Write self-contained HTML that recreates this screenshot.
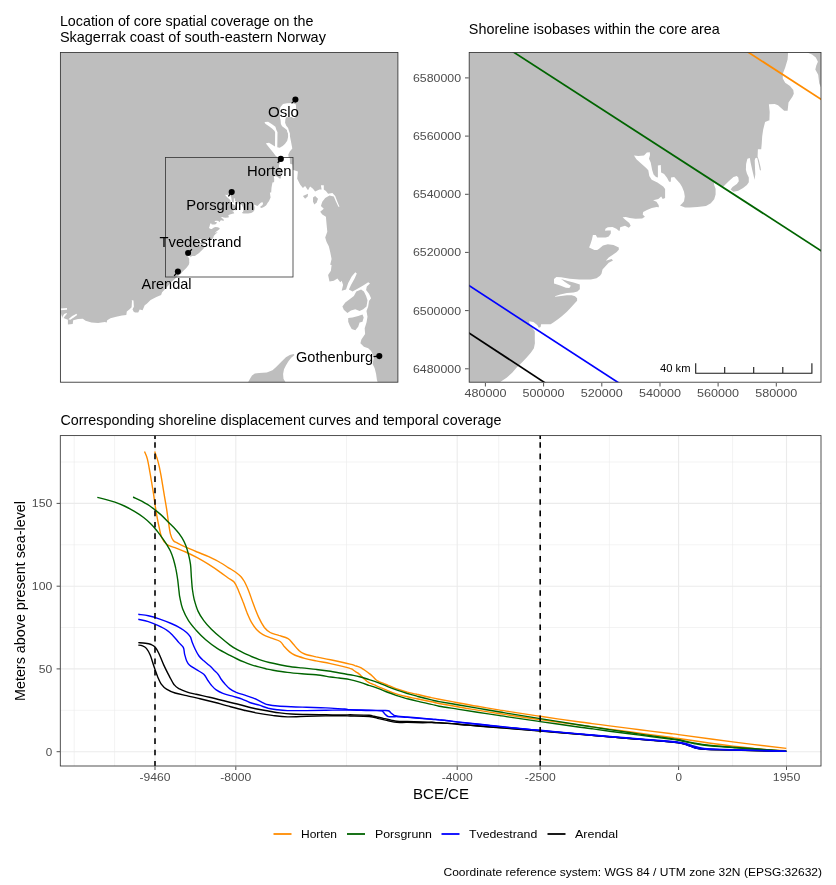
<!DOCTYPE html>
<html><head><meta charset="utf-8"><title>Shoreline displacement</title>
<style>
html,body{margin:0;padding:0;background:#fff;}
svg{display:block;font-family:"Liberation Sans",Arial,Helvetica,sans-serif;}
.t{font-size:14.4px;fill:#000;}
.ax{font-size:11px;fill:#4d4d4d;}
.lab{font-size:14.2px;fill:#000;}
.leg{font-size:11px;fill:#000;}
</style></head><body>
<svg width="836" height="885" viewBox="0 0 836 885">
<rect width="836" height="885" fill="#fff"/>
<defs>
<clipPath id="c1"><rect x="60.4" y="52.5" width="337.5" height="329.7"/></clipPath>
<clipPath id="c2"><rect x="469.2" y="52.5" width="351.8" height="329.7"/></clipPath>
<clipPath id="c3"><rect x="60.3" y="435.6" width="760.7" height="330.4"/></clipPath>
</defs>

<text class="t" x="59.9" y="25.8" textLength="253.5" lengthAdjust="spacingAndGlyphs">Location of core spatial coverage on the</text>
<text class="t" x="59.9" y="42" textLength="266" lengthAdjust="spacingAndGlyphs">Skagerrak coast of south-eastern Norway</text>
<text class="t" x="468.8" y="34" textLength="251" lengthAdjust="spacingAndGlyphs">Shoreline isobases within the core area</text>
<text class="t" x="60.5" y="425" textLength="441" lengthAdjust="spacingAndGlyphs">Corresponding shoreline displacement curves and temporal coverage</text>
<g clip-path="url(#c1)">
<rect x="60" y="52" width="339" height="331" fill="#bebebe"/>
<path d="M50.0 395.0 L50.0 313.0 L58.8 313.0 L60.7 313.0 L62.2 317.3 L64.1 318.3 L67.9 319.7 L67.9 324.5 L72.7 324.0 L73.2 320.2 L78.0 319.0 L82.8 318.8 L85.6 320.7 L91.4 322.6 L98.1 322.9 L104.8 322.1 L106.7 322.6 L107.2 320.2 L110.5 318.3 L116.2 316.8 L122.0 315.6 L126.3 314.9 L126.8 311.6 L129.6 309.2 L131.6 307.3 L132.0 300.6 L131.1 300.1 L133.5 300.6 L133.9 306.8 L132.5 309.2 L133.5 311.6 L135.0 312.5 L138.2 312.4 L139.7 309.5 L142.6 310.3 L144.7 305.2 L146.8 303.7 L150.6 299.9 L156.4 297.0 L161.1 295.1 L162.1 292.2 L165.0 289.3 L171.0 282.5 L176.7 277.3 L176.7 276.8 L179.0 275.2 L181.1 273.4 L182.7 271.6 L184.8 269.5 L186.3 268.0 L187.9 266.1 L188.9 264.6 L189.3 262.8 L189.2 261.6 L189.2 258.5 L187.3 255.8 L187.2 254.8 L188.7 255.1 L190.1 256.1 L190.7 257.2 L191.3 256.9 L191.5 255.9 L195.0 255.9 L195.8 255.3 L197.7 253.9 L199.1 252.9 L200.8 251.3 L202.2 250.0 L203.8 248.2 L204.5 247.4 L204.5 246.5 L203.8 245.7 L202.6 245.4 L200.8 245.4 L198.8 245.6 L196.7 246.0 L196.5 245.7 L198.4 245.1 L200.8 244.6 L203.3 244.4 L204.7 244.0 L205.5 243.2 L205.5 241.5 L203.3 240.8 L201.2 240.2 L198.8 239.5 L200.2 240.6 L201.5 241.5 L202.3 242.0 L201.7 242.8 L200.5 242.7 L198.4 241.9 L196.2 241.1 L196.2 239.6 L197.0 238.8 L198.8 238.9 L201.9 239.4 L205.3 239.7 L209.5 239.7 L211.6 239.2 L212.8 238.4 L213.4 237.6 L213.7 236.0 L216.0 233.6 L217.5 232.8 L217.0 232.3 L214.9 232.9 L216.0 231.7 L217.4 230.8 L218.7 229.8 L219.6 228.9 L219.6 228.1 L217.7 227.2 L215.6 226.9 L213.9 227.4 L212.5 228.6 L211.8 229.0 L210.8 229.0 L208.9 228.1 L209.4 226.8 L209.9 225.1 L210.3 223.6 L211.3 223.6 L211.8 224.5 L214.9 224.5 L216.0 224.1 L216.7 223.0 L216.7 221.9 L215.6 221.9 L214.7 222.1 L214.8 221.3 L215.6 220.8 L217.4 220.7 L218.7 221.3 L219.6 222.1 L220.0 222.1 L220.1 220.8 L221.9 220.3 L223.2 221.0 L223.9 220.3 L223.4 219.2 L221.9 218.0 L221.0 217.1 L222.2 217.1 L223.6 217.4 L225.7 217.7 L228.1 217.6 L229.1 217.0 L228.3 216.1 L228.4 215.2 L229.8 214.5 L231.6 213.9 L233.3 213.4 L234.2 213.5 L234.0 212.5 L234.1 212.9 L233.3 211.6 L232.0 211.0 L233.9 210.5 L235.0 209.6 L235.5 210.5 L236.4 210.2 L236.4 206.9 L235.7 206.0 L233.6 204.6 L231.5 203.6 L230.7 202.2 L230.3 200.1 L229.4 199.2 L227.7 197.7 L226.0 196.1 L225.1 194.7 L226.7 195.0 L228.7 194.7 L229.8 193.7 L230.8 193.6 L230.9 194.6 L230.5 196.0 L231.2 197.3 L231.7 200.1 L232.2 201.7 L233.1 202.5 L233.8 202.7 L233.8 198.4 L234.8 198.3 L234.9 201.0 L236.0 201.5 L237.1 202.9 L237.8 204.3 L238.4 204.3 L238.5 202.7 L239.7 202.6 L241.8 205.0 L242.5 206.2 L243.2 207.9 L243.5 209.6 L243.2 211.4 L242.5 212.2 L241.8 212.9 L243.6 213.6 L245.3 213.6 L248.1 213.4 L251.2 213.1 L252.9 212.1 L254.1 210.7 L254.6 208.9 L254.6 206.9 L254.1 205.5 L254.2 206.2 L254.0 204.6 L257.5 206.0 L259.4 204.1 L261.1 202.6 L262.3 202.2 L262.9 202.7 L263.0 204.1 L262.3 205.2 L260.8 206.2 L260.1 207.1 L261.1 207.9 L262.9 207.6 L264.6 206.5 L266.0 205.5 L266.7 204.5 L267.7 202.7 L268.9 201.3 L269.8 199.3 L270.6 197.5 L270.3 195.8 L269.9 192.5 L271.2 192.5 L271.3 190.6 L271.5 187.8 L271.9 185.4 L272.5 182.6 L274.3 181.9 L274.1 182.2 L274.2 179.0 L273.9 176.3 L276.0 176.2 L277.2 176.6 L279.5 178.6 L280.7 178.6 L281.0 175.6 L282.4 173.5 L282.9 172.5 L282.8 171.1 L281.6 169.7 L279.8 168.5 L279.0 166.9 L279.0 165.2 L279.8 162.9 L280.7 160.0 L278.7 157.7 L275.8 156.0 L273.0 152.2 L269.1 147.4 L266.3 143.9 L266.0 143.3 L269.0 142.8 L273.8 145.8 L275.0 146.4 L275.1 132.3 L274.4 130.8 L272.0 128.5 L269.0 126.3 L266.0 124.2 L264.7 123.0 L264.8 122.0 L268.1 121.8 L272.0 124.2 L275.4 126.8 L276.4 129.9 L277.5 132.3 L277.3 147.2 L279.7 147.8 L282.7 146.1 L285.1 143.7 L287.2 140.7 L288.1 137.1 L288.0 133.5 L287.2 131.7 L286.9 129.9 L284.5 128.1 L282.1 126.3 L280.9 123.9 L280.6 120.3 L280.0 117.9 L279.7 112.0 L280.3 107.2 L283.0 104.1 L286.9 103.3 L292.3 103.0 L295.9 104.5 L296.2 112.0 L295.3 117.6 L293.2 117.9 L291.7 117.0 L286.3 117.3 L285.4 119.1 L285.1 122.7 L286.3 125.7 L288.1 128.1 L289.0 131.1 L289.9 133.5 L289.9 135.9 L290.5 138.9 L291.5 144.3 L292.3 148.6 L289.8 151.5 L288.3 154.4 L288.7 157.5 L289.8 157.9 L290.1 163.7 L292.6 164.4 L293.1 170.2 L293.6 170.1 L297.9 171.5 L297.2 178.7 L300.1 184.4 L302.9 188.0 L305.1 185.9 L308.0 190.2 L310.1 186.6 L313.0 188.8 L315.1 191.6 L319.4 189.5 L321.6 189.5 L320.9 185.2 L323.8 185.2 L323.8 189.5 L325.9 190.9 L328.1 193.8 L332.4 193.1 L335.2 195.9 L337.4 201.7 L339.5 206.7 L338.4 206.7 L336.0 201.7 L333.8 196.6 L329.5 195.6 L325.2 198.1 L322.3 201.7 L320.9 206.0 L323.8 208.8 L320.2 211.7 L322.3 214.6 L325.9 216.7 L326.6 224.6 L327.3 231.8 L325.2 237.6 L326.6 241.9 L328.8 246.2 L330.2 251.9 L331.6 259.1 L330.2 264.8 L331.6 265.0 L330.9 270.7 L328.1 275.0 L329.5 281.5 L333.8 280.8 L337.4 278.6 L340.3 282.2 L341.7 280.8 L343.1 285.1 L341.7 290.8 L346.0 289.4 L348.2 282.9 L351.7 276.5 L355.3 272.2 L356.8 273.6 L354.6 278.6 L351.0 285.1 L348.9 289.4 L352.5 291.6 L357.5 288.7 L363.2 285.4 L368.2 282.2 L370.0 283.4 L366.8 286.5 L366.1 290.1 L369.0 293.7 L371.1 298.3 L369.0 300.9 L368.2 306.6 L366.5 310.9 L367.5 316.7 L366.5 322.4 L364.7 328.2 L365.1 333.9 L361.4 339.6 L360.4 343.2 L363.9 346.8 L368.2 348.2 L371.1 351.1 L374.0 356.9 L372.6 364.0 L374.7 368.3 L376.1 374.1 L376.9 379.8 L377.6 382.0 L377.6 389.9 Z" fill="#fff"/>
<path d="M58.8 308.5 L67.0 307.9 L67.0 309.7 L58.8 310.2 Z" fill="#fff"/>
<path d="M62.2 317.3 L64.1 314.0 L66.5 313.0 L67.0 313.7 L64.6 316.4 L63.6 318.3 Z" fill="#fff"/>
<path d="M68.4 319.2 L72.2 315.9 L76.5 313.7 L77.2 314.9 L74.1 317.3 L70.3 319.7 Z" fill="#fff"/>
<path d="M248.1 382.3 L250.0 378.8 L252.0 375.5 L254.8 373.5 L259.1 373.1 L266.8 372.6 L272.5 370.2 L276.4 366.8 L281.1 362.1 L285.9 357.3 L289.8 354.9 L293.6 353.9 L294.5 354.9 L291.2 357.8 L288.3 361.6 L285.9 365.4 L284.0 369.2 L283.1 374.0 L283.5 378.8 L285.5 382.3 L285.5 387.4 L248.1 387.4 Z" fill="#bebebe"/>
<path d="M356.3 291.6 L361.1 289.4 L363.9 291.6 L366.1 295.9 L367.5 300.2 L366.5 306.6 L363.2 309.2 L359.6 310.9 L355.3 309.2 L351.0 310.6 L347.4 313.1 L343.8 309.8 L342.4 306.6 L345.3 302.6 L350.3 298.7 L353.9 295.9 Z" fill="#bebebe"/>
<path d="M348.2 318.1 L352.5 317.4 L358.2 316.0 L362.5 314.5 L363.7 317.4 L362.5 321.7 L359.6 322.4 L358.2 326.7 L355.3 330.3 L351.7 328.9 L349.6 325.3 L348.2 321.7 Z" fill="#bebebe"/>
<path d="M302.9 195.9 L308.0 193.8 L307.7 196.6 L305.1 198.8 Z" fill="#bebebe"/>
<path d="M313.0 197.4 L315.1 195.9 L318.0 198.8 L316.6 202.4 L314.4 204.5 L313.0 201.7 Z" fill="#bebebe"/>
</g>
<rect x="165.5" y="157.5" width="127.5" height="119.5" fill="none" stroke="#333" stroke-width="0.8"/>
<line x1="295.4" y1="99.6" x2="291.6" y2="103.4" stroke="#000" stroke-width="1.25"/>
<line x1="280.8" y1="158.9" x2="277.7" y2="162.8" stroke="#000" stroke-width="1.25"/>
<line x1="231.7" y1="192.1" x2="228.4" y2="196.4" stroke="#000" stroke-width="1.25"/>
<line x1="188.1" y1="253" x2="191.9" y2="249.3" stroke="#000" stroke-width="1.25"/>
<line x1="177.9" y1="271.6" x2="174.1" y2="275.8" stroke="#000" stroke-width="1.25"/>
<line x1="379.3" y1="356.1" x2="373.5" y2="356.6" stroke="#000" stroke-width="1.25"/>
<circle cx="295.4" cy="99.6" r="3.05" fill="#000"/>
<circle cx="280.8" cy="158.9" r="3.05" fill="#000"/>
<circle cx="231.7" cy="192.1" r="3.05" fill="#000"/>
<circle cx="188.1" cy="253" r="3.05" fill="#000"/>
<circle cx="177.9" cy="271.6" r="3.05" fill="#000"/>
<circle cx="379.3" cy="356.1" r="3.05" fill="#000"/>
<text class="lab" x="268" y="116.5" textLength="31" lengthAdjust="spacingAndGlyphs">Oslo</text>
<text class="lab" x="247" y="176" textLength="44.5" lengthAdjust="spacingAndGlyphs">Horten</text>
<text class="lab" x="186.3" y="210" textLength="68" lengthAdjust="spacingAndGlyphs">Porsgrunn</text>
<text class="lab" x="159.5" y="247" textLength="82" lengthAdjust="spacingAndGlyphs">Tvedestrand</text>
<text class="lab" x="141.5" y="289" textLength="50" lengthAdjust="spacingAndGlyphs">Arendal</text>
<text class="lab" x="296" y="362" textLength="77" lengthAdjust="spacingAndGlyphs">Gothenburg</text>
<rect x="60.4" y="52.5" width="337.5" height="329.7" fill="none" stroke="#333" stroke-width="0.85"/>
<g clip-path="url(#c2)">
<rect x="469" y="52" width="353" height="331" fill="#fff"/>
<path d="M460.0 40.0 L460.0 395.0 L500.2 383.4 L500.2 382.0 L506.6 377.7 L512.4 372.6 L516.7 367.6 L522.4 361.9 L526.7 357.6 L531.0 352.5 L533.9 348.2 L534.9 343.2 L534.8 340.0 L534.8 331.3 L529.6 323.9 L529.1 321.2 L533.4 322.0 L537.2 324.9 L538.9 327.8 L540.6 327.0 L541.1 324.3 L550.6 324.3 L553.0 322.7 L558.3 318.9 L562.1 316.0 L566.9 311.7 L570.7 307.8 L575.0 303.1 L577.1 300.7 L577.1 298.3 L575.0 296.2 L571.7 295.2 L566.9 295.2 L561.1 295.9 L555.4 296.8 L554.9 296.2 L560.2 294.4 L566.9 293.0 L573.6 292.5 L577.4 291.4 L579.8 289.2 L579.8 284.4 L573.6 282.5 L567.8 280.9 L561.1 278.9 L565.0 282.0 L568.8 284.4 L570.9 285.8 L569.3 287.9 L565.9 287.8 L560.2 285.6 L554.0 283.4 L554.0 279.1 L556.4 277.0 L561.1 277.2 L569.8 278.7 L579.3 279.6 L590.8 279.6 L596.6 278.2 L600.0 275.8 L601.5 273.7 L602.5 269.4 L608.7 262.7 L613.0 260.5 L611.6 259.1 L605.8 260.8 L608.7 257.4 L612.5 255.0 L616.4 252.2 L618.8 249.8 L618.8 247.4 L613.5 245.0 L607.8 244.2 L603.0 245.5 L599.1 248.8 L597.2 250.0 L594.4 250.0 L589.1 247.4 L590.5 244.0 L592.0 239.2 L592.9 234.9 L595.8 234.9 L597.2 237.5 L605.8 237.5 L608.7 236.4 L610.8 233.5 L610.8 230.4 L607.8 230.4 L605.1 230.8 L605.4 228.7 L607.8 227.3 L612.5 227.1 L616.4 228.7 L618.8 230.8 L619.7 230.8 L620.2 227.3 L625.0 225.8 L628.8 227.8 L630.7 225.8 L629.3 223.0 L625.0 219.6 L622.6 217.2 L625.9 217.0 L629.8 218.0 L635.5 218.7 L642.2 218.4 L644.9 216.7 L642.7 214.4 L643.2 212.0 L647.0 210.0 L651.8 208.1 L656.6 206.9 L658.9 207.2 L658.5 204.3 L658.9 205.6 L656.5 201.8 L653.1 200.3 L658.4 198.9 L661.2 196.5 L662.7 198.9 L665.1 197.9 L665.1 188.9 L663.2 186.5 L657.4 182.6 L651.7 179.8 L649.3 175.9 L648.3 170.2 L645.9 167.8 L641.1 163.5 L636.4 159.2 L634.0 155.4 L638.3 156.0 L644.0 155.4 L646.9 152.5 L649.8 152.2 L650.0 154.9 L649.0 158.7 L650.7 162.5 L652.2 170.2 L653.6 174.5 L656.0 176.9 L657.9 177.4 L657.9 165.4 L660.8 165.1 L661.1 172.6 L664.1 174.0 L667.0 177.8 L669.1 181.7 L670.8 181.7 L671.0 177.4 L674.2 177.1 L680.0 183.6 L682.1 186.9 L684.0 191.7 L684.8 196.5 L684.0 201.2 L682.1 203.6 L680.0 205.6 L685.0 207.5 L689.8 207.5 L697.4 207.0 L706.0 206.0 L710.8 203.2 L714.2 199.3 L715.6 194.5 L715.6 188.8 L714.2 185.0 L714.4 187.0 L713.9 182.7 L723.4 186.5 L728.7 181.2 L733.5 176.9 L736.8 176.0 L738.3 177.4 L738.8 181.2 L736.8 184.1 L732.5 187.0 L730.6 189.4 L733.5 191.8 L738.3 190.8 L743.1 187.9 L746.9 185.1 L748.8 182.2 L748.8 177.4 L746.9 173.6 L745.9 169.8 L746.1 164.0 L747.4 158.8 L749.8 158.1 L750.7 163.1 L752.2 169.8 L753.6 175.5 L754.5 179.8 L755.3 174.5 L755.0 167.8 L754.7 160.2 L755.5 158.1 L757.2 157.8 L758.4 163.1 L759.8 169.8 L761.0 170.7 L760.5 166.9 L758.9 160.2 L757.6 156.4 L757.9 149.2 L761.2 149.2 L761.7 143.9 L762.2 136.3 L763.2 129.6 L765.1 121.9 L769.9 120.0 L769.4 120.6 L769.7 112.0 L768.9 104.3 L774.7 104.1 L778.0 105.3 L784.2 110.8 L787.6 110.8 L788.5 102.4 L792.4 96.7 L793.8 93.8 L793.3 90.0 L790.0 86.1 L785.2 82.8 L782.8 78.5 L782.8 73.7 L785.2 67.5 L787.6 59.4 L788.1 52.5 L788.1 48.8 Z" fill="#bebebe"/>
<path d="M807.2 52.5 L812.0 54.6 L815.8 57.4 L817.9 61.7 L816.3 65.6 L815.3 69.4 L818.2 74.7 L819.2 83.3 L820.8 87.1 L822.5 87.1 L822.5 50.7 L807.2 50.7 Z" fill="#bebebe"/>
<line x1="740" y1="46.9" x2="830" y2="105.1" stroke="#ff8c00" stroke-width="1.7"/>
<line x1="505" y1="46.6" x2="830" y2="256.5" stroke="#006400" stroke-width="1.7"/>
<line x1="460" y1="279.7" x2="630" y2="390.2" stroke="#0000ff" stroke-width="1.7"/>
<line x1="460" y1="327.1" x2="555" y2="389.4" stroke="#000" stroke-width="1.7"/>
</g>
<path d="M695.7 363.3 V373.3 H811.9 V363.3 M724.7 367 V373.3 M753.7 367 V373.3 M782.8 367 V373.3" fill="none" stroke="#1a1a1a" stroke-width="1.1"/>
<text x="660" y="372.3" font-size="10.6" fill="#000" textLength="30.5" lengthAdjust="spacingAndGlyphs">40 km</text>
<rect x="469.2" y="52.5" width="351.8" height="329.7" fill="none" stroke="#333" stroke-width="0.85"/>
<line x1="465" y1="77.9" x2="468.7" y2="77.9" stroke="#333" stroke-width="0.85"/>
<text class="ax" x="413" y="81.9" textLength="48" lengthAdjust="spacingAndGlyphs">6580000</text>
<line x1="465" y1="136.1" x2="468.7" y2="136.1" stroke="#333" stroke-width="0.85"/>
<text class="ax" x="413" y="140.1" textLength="48" lengthAdjust="spacingAndGlyphs">6560000</text>
<line x1="465" y1="194.3" x2="468.7" y2="194.3" stroke="#333" stroke-width="0.85"/>
<text class="ax" x="413" y="198.3" textLength="48" lengthAdjust="spacingAndGlyphs">6540000</text>
<line x1="465" y1="252.4" x2="468.7" y2="252.4" stroke="#333" stroke-width="0.85"/>
<text class="ax" x="413" y="256.4" textLength="48" lengthAdjust="spacingAndGlyphs">6520000</text>
<line x1="465" y1="310.6" x2="468.7" y2="310.6" stroke="#333" stroke-width="0.85"/>
<text class="ax" x="413" y="314.6" textLength="48" lengthAdjust="spacingAndGlyphs">6500000</text>
<line x1="465" y1="368.8" x2="468.7" y2="368.8" stroke="#333" stroke-width="0.85"/>
<text class="ax" x="413" y="372.8" textLength="48" lengthAdjust="spacingAndGlyphs">6480000</text>
<line x1="485.4" y1="383" x2="485.4" y2="386.5" stroke="#333" stroke-width="0.85"/>
<text class="ax" x="464.4" y="396.6" textLength="42" lengthAdjust="spacingAndGlyphs">480000</text>
<line x1="543.6" y1="383" x2="543.6" y2="386.5" stroke="#333" stroke-width="0.85"/>
<text class="ax" x="522.6" y="396.6" textLength="42" lengthAdjust="spacingAndGlyphs">500000</text>
<line x1="601.8" y1="383" x2="601.8" y2="386.5" stroke="#333" stroke-width="0.85"/>
<text class="ax" x="580.8" y="396.6" textLength="42" lengthAdjust="spacingAndGlyphs">520000</text>
<line x1="660" y1="383" x2="660" y2="386.5" stroke="#333" stroke-width="0.85"/>
<text class="ax" x="639.0" y="396.6" textLength="42" lengthAdjust="spacingAndGlyphs">540000</text>
<line x1="718.1" y1="383" x2="718.1" y2="386.5" stroke="#333" stroke-width="0.85"/>
<text class="ax" x="697.1" y="396.6" textLength="42" lengthAdjust="spacingAndGlyphs">560000</text>
<line x1="776.3" y1="383" x2="776.3" y2="386.5" stroke="#333" stroke-width="0.85"/>
<text class="ax" x="755.3" y="396.6" textLength="42" lengthAdjust="spacingAndGlyphs">580000</text>
<rect x="60.3" y="435.6" width="760.7" height="330.4" fill="#fff"/>
<line x1="60.3" x2="821" y1="710.3" y2="710.3" stroke="#ebebeb" stroke-width="0.6"/>
<line x1="60.3" x2="821" y1="627.5" y2="627.5" stroke="#ebebeb" stroke-width="0.6"/>
<line x1="60.3" x2="821" y1="544.8" y2="544.8" stroke="#ebebeb" stroke-width="0.6"/>
<line x1="60.3" x2="821" y1="462.0" y2="462.0" stroke="#ebebeb" stroke-width="0.6"/>
<line y1="435.6" y2="766" x1="74.2" x2="74.2" stroke="#ebebeb" stroke-width="0.6"/>
<line y1="435.6" y2="766" x1="114.6" x2="114.6" stroke="#ebebeb" stroke-width="0.6"/>
<line y1="435.6" y2="766" x1="195.4" x2="195.4" stroke="#ebebeb" stroke-width="0.6"/>
<line y1="435.6" y2="766" x1="346.5" x2="346.5" stroke="#ebebeb" stroke-width="0.6"/>
<line y1="435.6" y2="766" x1="498.7" x2="498.7" stroke="#ebebeb" stroke-width="0.6"/>
<line y1="435.6" y2="766" x1="609.4" x2="609.4" stroke="#ebebeb" stroke-width="0.6"/>
<line y1="435.6" y2="766" x1="732.6" x2="732.6" stroke="#ebebeb" stroke-width="0.6"/>
<line x1="60.3" x2="821" y1="751.7" y2="751.7" stroke="#ebebeb" stroke-width="1.1"/>
<line x1="60.3" x2="821" y1="668.9" y2="668.9" stroke="#ebebeb" stroke-width="1.1"/>
<line x1="60.3" x2="821" y1="586.2" y2="586.2" stroke="#ebebeb" stroke-width="1.1"/>
<line x1="60.3" x2="821" y1="503.4" y2="503.4" stroke="#ebebeb" stroke-width="1.1"/>
<line y1="435.6" y2="766" x1="155.0" x2="155.0" stroke="#ebebeb" stroke-width="1.1"/>
<line y1="435.6" y2="766" x1="235.8" x2="235.8" stroke="#ebebeb" stroke-width="1.1"/>
<line y1="435.6" y2="766" x1="457.2" x2="457.2" stroke="#ebebeb" stroke-width="1.1"/>
<line y1="435.6" y2="766" x1="540.2" x2="540.2" stroke="#ebebeb" stroke-width="1.1"/>
<line y1="435.6" y2="766" x1="678.6" x2="678.6" stroke="#ebebeb" stroke-width="1.1"/>
<line y1="435.6" y2="766" x1="786.5" x2="786.5" stroke="#ebebeb" stroke-width="1.1"/>
<g clip-path="url(#c3)" fill="none" stroke-width="1.4" stroke-linejoin="round">
<path d="M138.3 642.6 C139.5 642.7 143.3 642.9 145.4 643.2 C147.5 643.5 149.6 643.9 151.1 644.5 C152.7 645.2 153.7 645.6 155.0 647.0 C156.3 648.5 157.4 650.2 158.8 653.2 C160.2 656.1 161.8 660.8 163.6 664.6 C165.3 668.5 167.6 672.8 169.3 676.1 C171.1 679.5 172.5 682.7 174.1 684.7 C175.7 686.8 176.8 687.4 178.9 688.6 C181.0 689.7 183.7 690.9 186.6 691.8 C189.4 692.8 192.3 693.4 196.1 694.3 C200.0 695.2 204.7 696.1 209.5 697.2 C214.3 698.3 219.7 699.7 224.8 701.0 C229.9 702.3 235.0 703.6 240.1 704.8 C245.2 706.1 250.8 707.6 255.5 708.7 C260.1 709.7 264.2 710.3 268.3 711.0 C272.3 711.7 275.9 712.4 279.8 712.9 C283.6 713.4 286.8 713.8 291.2 714.0 C295.7 714.3 300.8 714.3 306.6 714.4 C312.3 714.5 319.3 714.7 325.7 714.8 C332.1 714.9 340.8 715.0 344.8 715.0 C348.9 715.0 345.9 714.8 350.0 714.8 C354.1 714.9 365.2 715.1 369.1 715.3 C373.1 715.6 371.5 715.8 373.9 716.3 C376.3 716.8 380.6 717.7 383.5 718.4 C386.4 719.0 388.9 719.6 391.1 720.1 C393.4 720.6 394.2 721.0 396.9 721.2 C399.6 721.5 403.1 721.4 407.4 721.5 C411.7 721.7 418.7 721.9 422.7 722.0 C426.7 722.1 428.7 722.2 431.5 722.3 C434.2 722.5 434.8 722.5 439.1 722.7 C443.5 723.0 451.1 723.5 457.5 724.0 C463.9 724.5 470.3 725.2 477.4 725.8 C484.5 726.4 494.6 727.2 500.0 727.6 C505.4 728.0 502.9 727.8 509.6 728.3 C516.3 728.9 528.5 729.9 540.2 730.9 C551.9 731.8 571.4 733.5 580.0 734.2 C588.6 735.0 587.0 734.8 592.0 735.3 C596.9 735.7 601.6 736.1 609.5 736.8 C617.5 737.4 629.7 738.5 639.8 739.3 C649.9 740.1 663.5 741.2 670.0 741.8 C676.5 742.3 676.1 742.3 678.6 742.7 C681.0 743.0 682.7 743.5 684.8 744.1 C686.8 744.7 688.9 745.5 691.0 746.2 C693.1 746.9 694.8 747.8 697.2 748.3 C699.7 748.8 699.9 748.9 705.8 749.2 C711.7 749.5 719.2 749.6 732.7 750.0 C746.1 750.3 777.4 751.1 786.3 751.4" stroke="#000"/>
<path d="M138.3 645.1 C139.0 645.2 141.2 645.3 142.5 645.9 C143.9 646.4 145.1 646.8 146.4 648.4 C147.6 649.9 148.9 652.0 150.2 655.1 C151.5 658.1 152.7 662.9 154.0 666.6 C155.3 670.2 156.6 674.1 157.8 677.1 C159.1 680.1 160.2 682.7 161.7 684.7 C163.1 686.7 164.2 687.8 166.5 689.1 C168.7 690.5 171.7 691.9 175.1 693.0 C178.4 694.1 182.4 694.7 186.6 695.6 C190.7 696.6 195.2 697.6 200.0 698.7 C204.7 699.9 210.2 701.2 215.3 702.5 C220.4 703.9 225.8 705.5 230.6 706.7 C235.4 708.0 239.5 709.1 244.0 710.2 C248.4 711.2 252.7 712.2 257.4 713.1 C262.1 713.9 267.1 714.7 272.1 715.4 C277.1 716.0 281.7 716.7 287.4 716.9 C293.2 717.0 300.2 716.5 306.6 716.3 C312.9 716.2 319.3 716.0 325.7 715.9 C332.1 715.8 340.8 715.7 344.8 715.7 C348.9 715.7 345.9 715.9 350.0 716.0 C354.1 716.1 364.4 716.0 369.1 716.5 C373.9 716.9 375.5 717.8 378.7 718.6 C381.9 719.3 385.2 720.1 388.3 720.8 C391.3 721.4 393.7 722.1 396.9 722.4 C400.1 722.7 403.1 722.3 407.4 722.4 C411.7 722.4 418.7 722.7 422.7 722.7 C426.7 722.7 428.7 722.5 431.5 722.5 C434.2 722.6 434.8 722.6 439.1 722.9 C443.5 723.2 451.1 723.6 457.5 724.2 C463.9 724.7 470.3 725.4 477.4 726.0 C484.5 726.6 494.6 727.4 500.0 727.8 C505.4 728.2 502.9 728.0 509.6 728.5 C516.3 729.1 528.5 730.1 540.2 731.0 C551.9 732.0 571.4 733.6 580.0 734.4 C588.6 735.1 587.0 735.0 592.0 735.4 C596.9 735.8 601.6 736.2 609.5 736.9 C617.5 737.5 629.7 738.6 639.8 739.4 C649.9 740.3 663.5 741.3 670.0 741.9 C676.5 742.5 676.1 742.4 678.6 742.8 C681.0 743.2 682.7 743.6 684.8 744.2 C686.8 744.8 688.9 745.7 691.0 746.4 C693.1 747.1 694.8 747.9 697.2 748.4 C699.7 748.9 699.9 749.1 705.8 749.3 C711.7 749.6 719.2 749.8 732.7 750.1 C746.1 750.5 777.4 751.2 786.3 751.4" stroke="#000"/>
<path d="M144.5 451.5 C145.0 452.8 146.5 455.3 147.4 459.1 C148.4 463.0 149.3 469.0 150.3 474.4 C151.2 479.9 152.2 485.6 153.2 491.7 C154.1 497.7 155.1 505.1 156.0 510.8 C157.0 516.6 157.9 521.7 158.9 526.1 C159.9 530.6 160.5 534.6 161.8 537.6 C163.0 540.6 164.2 542.6 166.6 544.3 C168.9 546.1 172.9 546.9 176.1 548.1 C179.3 549.4 182.2 550.4 185.7 552.0 C189.2 553.6 193.3 555.6 197.2 557.7 C201.0 559.8 204.8 562.0 208.7 564.4 C212.5 566.8 217.0 569.8 220.1 572.1 C223.3 574.3 225.4 576.1 227.8 577.8 C230.2 579.5 232.5 580.1 234.3 582.2 C236.1 584.4 237.2 587.6 238.6 590.9 C240.0 594.1 241.5 597.9 242.9 601.6 C244.4 605.3 245.8 609.6 247.2 613.1 C248.7 616.6 249.9 619.6 251.5 622.4 C253.2 625.3 255.4 628.3 257.3 630.3 C259.2 632.4 260.6 633.3 263.0 634.6 C265.4 636.0 268.8 637.1 271.6 638.2 C274.5 639.4 278.1 640.1 280.2 641.5 C282.4 643.0 283.0 645.1 284.5 646.8 C286.1 648.6 287.9 650.5 289.6 651.9 C291.2 653.2 292.1 653.9 294.6 655.0 C297.1 656.1 301.0 657.3 304.6 658.3 C308.2 659.3 311.8 660.0 316.1 660.9 C320.4 661.8 324.8 662.4 330.5 663.6 C336.1 664.9 346.1 667.2 350.0 668.4 C353.9 669.5 352.6 669.8 353.8 670.5 C355.1 671.3 356.4 672.0 357.7 672.9 C358.9 673.9 360.4 675.2 361.5 676.3 C362.6 677.3 363.4 678.3 364.4 679.1 C365.3 680.0 366.3 680.9 367.2 681.5 C368.2 682.2 369.0 682.6 370.1 683.2 C371.2 683.7 372.5 684.1 373.9 684.7 C375.4 685.3 376.3 685.8 378.7 686.8 C381.1 687.8 385.1 689.6 388.3 690.8 C391.5 692.1 394.7 693.3 397.8 694.3 C401.0 695.3 404.2 696.1 407.4 696.8 C410.6 697.6 413.0 697.9 417.0 698.8 C421.0 699.6 427.8 701.0 431.5 701.8 C435.2 702.6 434.8 702.7 439.1 703.5 C443.5 704.3 451.1 705.6 457.5 706.7 C463.9 707.9 470.3 708.9 477.4 710.1 C484.5 711.3 494.6 712.9 500.0 713.7 C505.4 714.5 502.9 714.2 509.6 715.2 C516.3 716.2 528.5 718.0 540.2 719.6 C551.9 721.3 571.4 724.0 580.0 725.1 C588.6 726.3 587.0 726.1 592.0 726.7 C596.9 727.4 601.6 728.0 609.5 729.1 C617.5 730.2 629.7 731.8 639.8 733.2 C649.9 734.5 663.5 736.4 670.0 737.3 C676.5 738.2 672.1 737.5 678.6 738.5 C685.0 739.4 699.9 741.7 708.9 743.0 C717.9 744.2 724.9 745.1 732.7 746.1 C740.5 747.0 749.1 747.9 755.5 748.6 C761.9 749.2 766.0 749.6 771.1 750.0 C776.2 750.3 783.8 750.6 786.3 750.7" stroke="#ff8c00"/>
<path d="M154.7 451.5 C155.2 453.1 156.9 457.2 157.9 461.1 C159.0 464.9 159.9 469.3 160.8 474.4 C161.8 479.6 162.7 485.9 163.7 491.7 C164.6 497.4 165.8 503.8 166.6 508.9 C167.4 514.0 167.8 518.1 168.5 522.3 C169.1 526.4 169.6 530.7 170.4 533.8 C171.2 536.8 172.0 538.9 173.3 540.5 C174.5 542.1 176.0 542.2 178.0 543.3 C180.1 544.5 182.5 545.7 185.7 547.2 C188.9 548.6 193.3 550.4 197.2 552.0 C201.0 553.6 204.8 555.0 208.7 556.7 C212.5 558.5 217.0 560.7 220.1 562.5 C223.3 564.2 226.2 566.3 227.8 567.3 C229.4 568.3 228.7 567.8 230.0 568.6 C231.3 569.4 233.9 570.9 235.7 572.2 C237.5 573.5 239.3 575.0 240.8 576.5 C242.2 578.1 243.0 579.1 244.4 581.5 C245.7 583.9 247.2 587.3 248.7 590.9 C250.1 594.4 251.3 598.6 253.0 603.1 C254.6 607.5 256.8 613.3 258.7 617.4 C260.6 621.5 262.5 624.9 264.4 627.5 C266.4 630.0 267.8 631.2 270.2 632.5 C272.6 633.8 275.8 634.3 278.8 635.4 C281.8 636.4 285.7 637.2 288.1 638.7 C290.5 640.1 291.4 642.0 293.2 644.0 C294.9 645.9 297.0 648.8 298.9 650.4 C300.8 652.1 301.8 652.9 304.6 654.0 C307.5 655.1 311.8 655.9 316.1 656.9 C320.4 657.8 324.8 658.6 330.5 659.8 C336.1 661.0 345.9 663.1 350.0 664.1 C354.0 665.0 353.2 665.0 354.8 665.6 C356.4 666.1 358.0 666.4 359.6 667.2 C361.2 667.9 362.8 669.0 364.4 670.0 C365.9 671.1 367.7 672.3 369.1 673.4 C370.6 674.5 371.9 675.7 373.0 676.7 C374.1 677.8 374.9 678.8 375.8 679.6 C376.8 680.4 377.4 680.9 378.7 681.5 C380.0 682.2 381.9 682.8 383.5 683.4 C385.1 684.1 385.9 684.4 388.3 685.4 C390.7 686.3 394.7 688.1 397.8 689.2 C401.0 690.3 404.2 691.2 407.4 692.1 C410.6 692.9 413.0 693.3 417.0 694.3 C421.0 695.2 427.8 696.7 431.5 697.6 C435.2 698.4 434.8 698.3 439.1 699.2 C443.5 700.0 451.1 701.5 457.5 702.7 C463.9 703.9 470.3 705.1 477.4 706.3 C484.5 707.5 494.6 709.2 500.0 710.1 C505.4 711.0 502.9 710.6 509.6 711.6 C516.3 712.7 528.5 714.6 540.2 716.3 C551.9 718.1 571.4 720.8 580.0 722.0 C588.6 723.2 587.0 722.9 592.0 723.6 C596.9 724.2 601.6 724.8 609.5 725.9 C617.5 726.9 629.7 728.5 639.8 729.7 C649.9 731.0 663.5 732.7 670.0 733.5 C676.5 734.3 668.1 733.2 678.6 734.6 C689.0 736.0 714.7 739.6 732.7 741.9 C750.6 744.2 777.4 747.3 786.3 748.4" stroke="#ff8c00"/>
<path d="M97.3 497.4 C98.6 497.7 102.4 498.5 105.3 499.3 C108.2 500.1 111.7 501.1 114.9 502.2 C118.1 503.3 121.3 504.5 124.4 506.0 C127.6 507.5 130.8 509.3 134.0 511.2 C137.2 513.1 140.7 515.3 143.6 517.5 C146.5 519.7 149.0 522.0 151.2 524.2 C153.5 526.4 155.1 528.5 157.0 530.9 C158.9 533.3 161.1 536.3 162.7 538.6 C164.3 540.8 165.3 542.2 166.6 544.3 C167.8 546.4 169.3 548.6 170.4 551.0 C171.5 553.4 172.4 555.8 173.3 558.7 C174.1 561.5 175.0 564.7 175.7 568.2 C176.5 571.7 177.1 575.9 177.7 579.7 C178.2 583.5 178.6 588.2 179.0 591.2 C179.4 594.2 179.2 594.7 179.9 597.7 C180.5 600.6 181.3 605.3 182.7 609.1 C184.2 613.0 186.2 617.1 188.5 620.6 C190.7 624.1 193.3 627.0 196.1 630.2 C199.0 633.4 202.2 636.7 205.7 639.8 C209.2 642.8 213.1 645.8 217.2 648.4 C221.2 651.0 226.7 653.7 230.0 655.4 C233.3 657.2 234.8 657.9 237.2 659.0 C239.6 660.2 242.0 661.2 244.4 662.2 C246.7 663.2 249.1 664.0 251.5 664.8 C253.9 665.6 256.3 666.3 258.7 666.9 C261.1 667.6 263.5 668.2 265.9 668.8 C268.3 669.3 269.5 669.6 273.1 670.2 C276.6 670.8 282.6 671.8 287.4 672.4 C292.2 673.0 297.0 673.4 301.8 673.8 C306.6 674.2 311.3 674.3 316.1 674.8 C320.9 675.4 326.6 676.4 330.5 677.0 C334.3 677.5 335.8 677.6 339.1 678.0 C342.3 678.5 346.6 678.9 350.0 679.6 C353.4 680.3 356.4 681.2 359.6 682.2 C362.8 683.2 365.9 684.3 369.1 685.4 C372.3 686.4 375.5 687.5 378.7 688.7 C381.9 689.9 385.1 691.3 388.3 692.5 C391.5 693.7 394.7 694.8 397.8 695.9 C401.0 696.9 404.2 697.9 407.4 698.8 C410.6 699.6 413.0 700.2 417.0 701.1 C421.0 702.1 427.8 703.5 431.5 704.4 C435.2 705.2 434.8 705.4 439.1 706.2 C443.5 707.0 451.1 708.1 457.5 709.1 C463.9 710.1 470.3 711.1 477.4 712.2 C484.5 713.3 494.6 714.8 500.0 715.6 C505.4 716.5 502.9 716.1 509.6 717.1 C516.3 718.1 528.5 719.9 540.2 721.6 C551.9 723.3 571.4 726.0 580.0 727.2 C588.6 728.4 587.0 728.1 592.0 728.8 C596.9 729.5 601.6 730.1 609.5 731.2 C617.5 732.2 629.7 733.8 639.8 735.1 C649.9 736.5 663.5 738.2 670.0 739.0 C676.5 739.8 676.0 739.7 678.6 740.2 C681.1 740.7 682.8 741.3 685.6 741.9 C688.3 742.5 691.0 743.1 694.9 743.7 C698.8 744.4 702.6 745.1 708.9 745.8 C715.2 746.4 726.2 747.1 732.7 747.6 C739.2 748.1 742.7 748.4 747.8 748.7 C752.9 749.1 756.9 749.4 763.3 749.8 C769.7 750.2 782.5 750.9 786.3 751.1" stroke="#006400"/>
<path d="M133.1 497.0 C134.5 497.7 138.6 499.6 141.7 501.2 C144.7 502.9 148.1 504.8 151.2 507.0 C154.4 509.2 157.9 512.1 160.8 514.6 C163.7 517.2 165.9 519.7 168.5 522.3 C171.0 524.8 173.9 527.4 176.1 530.0 C178.4 532.5 180.3 535.1 181.9 537.6 C183.5 540.2 184.6 542.4 185.7 545.3 C186.8 548.1 187.8 551.6 188.6 554.8 C189.4 558.0 190.0 560.6 190.5 564.4 C191.0 568.2 191.1 573.7 191.4 577.8 C191.8 581.9 191.9 585.7 192.4 589.3 C192.9 592.9 193.3 595.9 194.2 599.6 C195.2 603.2 196.4 607.5 198.0 611.1 C199.6 614.6 201.5 617.6 203.8 620.6 C206.0 623.7 208.6 626.4 211.4 629.2 C214.3 632.1 217.9 635.2 221.0 637.8 C224.1 640.5 227.3 643.1 230.0 645.1 C232.7 647.1 234.8 648.3 237.2 649.7 C239.6 651.1 242.0 652.2 244.4 653.3 C246.7 654.4 249.1 655.4 251.5 656.5 C253.9 657.5 256.3 658.5 258.7 659.3 C261.1 660.2 263.5 661.0 265.9 661.6 C268.3 662.3 269.5 662.6 273.1 663.3 C276.6 664.1 282.6 665.4 287.4 666.2 C292.2 667.0 297.0 667.4 301.8 667.9 C306.6 668.5 311.3 668.8 316.1 669.4 C320.9 669.9 324.8 670.3 330.5 671.2 C336.1 672.1 345.1 673.9 350.0 674.8 C354.8 675.7 356.4 675.9 359.6 676.7 C362.8 677.5 365.9 678.6 369.1 679.6 C372.3 680.6 375.5 681.6 378.7 682.8 C381.9 684.0 385.1 685.5 388.3 686.8 C391.5 688.1 394.7 689.3 397.8 690.4 C401.0 691.5 404.2 692.5 407.4 693.5 C410.6 694.4 413.0 695.1 417.0 696.2 C421.0 697.2 427.8 699.0 431.5 699.9 C435.2 700.8 434.8 700.8 439.1 701.6 C443.5 702.4 451.1 703.6 457.5 704.7 C463.9 705.8 470.3 706.9 477.4 708.1 C484.5 709.3 494.6 711.1 500.0 712.0 C505.4 712.9 502.9 712.4 509.6 713.6 C516.3 714.7 528.5 716.7 540.2 718.6 C551.9 720.5 571.4 723.6 580.0 725.0 C588.6 726.4 587.0 726.1 592.0 726.9 C596.9 727.6 601.6 728.4 609.5 729.6 C617.5 730.8 629.7 732.6 639.8 734.1 C649.9 735.6 663.5 737.5 670.0 738.4 C676.5 739.4 676.0 739.2 678.6 739.7 C681.1 740.2 682.8 740.7 685.6 741.3 C688.3 741.8 691.0 742.5 694.9 743.1 C698.8 743.8 702.6 744.5 708.9 745.1 C715.2 745.8 726.2 746.7 732.7 747.2 C739.2 747.7 742.7 747.9 747.8 748.3 C752.9 748.6 756.9 749.0 763.3 749.5 C769.7 750.0 782.5 750.8 786.3 751.1" stroke="#006400"/>
<path d="M138.3 614.3 C140.0 614.6 144.7 615.0 148.3 615.8 C151.9 616.6 155.9 617.8 159.8 619.1 C163.6 620.4 167.7 622.0 171.2 623.5 C174.8 625.0 178.3 626.8 180.8 628.3 C183.4 629.8 185.0 631.1 186.6 632.5 C188.1 633.9 189.4 635.2 190.4 636.9 C191.3 638.6 191.5 640.6 192.3 642.6 C193.1 644.7 194.1 647.1 195.2 649.3 C196.3 651.6 197.6 654.1 199.0 656.0 C200.4 657.9 202.0 659.2 203.8 660.8 C205.5 662.4 207.8 664.0 209.5 665.6 C211.3 667.2 212.9 668.9 214.3 670.4 C215.7 671.8 217.0 672.8 218.1 674.2 C219.3 675.6 219.9 677.4 221.0 679.0 C222.1 680.6 223.4 682.2 224.8 683.8 C226.3 685.4 227.7 687.1 229.6 688.6 C231.5 690.0 233.9 691.3 236.3 692.4 C238.7 693.4 241.1 693.9 244.0 694.9 C246.8 695.8 250.4 696.8 253.5 698.1 C256.7 699.5 260.7 701.8 263.1 702.9 C265.6 704.0 265.8 704.3 268.3 704.8 C270.7 705.3 274.0 705.7 277.8 706.0 C281.7 706.3 286.5 706.5 291.2 706.7 C296.0 707.0 300.8 707.1 306.6 707.3 C312.3 707.5 319.3 707.6 325.7 707.9 C332.1 708.2 340.8 708.8 344.8 709.0 C348.9 709.3 345.9 709.4 350.0 709.6 C354.1 709.8 363.9 710.1 369.1 710.2 C374.4 710.4 378.4 710.4 381.6 710.5 C384.8 710.6 386.7 710.3 388.3 710.7 C389.9 711.1 390.2 712.3 391.1 713.1 C392.1 713.9 392.9 714.8 394.0 715.3 C395.1 715.8 395.6 715.8 397.8 716.1 C400.1 716.4 401.8 716.5 407.4 717.0 C413.0 717.5 426.2 718.7 431.5 719.1 C436.8 719.5 434.8 719.2 439.1 719.7 C443.5 720.1 451.1 721.1 457.5 721.9 C463.9 722.6 470.3 723.3 477.4 724.0 C484.5 724.8 494.6 725.9 500.0 726.4 C505.4 727.0 502.9 726.7 509.6 727.4 C516.3 728.0 528.5 729.3 540.2 730.3 C551.9 731.4 571.4 733.2 580.0 733.9 C588.6 734.7 587.0 734.6 592.0 735.0 C596.9 735.4 601.6 735.8 609.5 736.5 C617.5 737.1 629.7 738.1 639.8 738.9 C649.9 739.7 663.5 740.7 670.0 741.3 C676.5 741.8 676.0 741.8 678.6 742.2 C681.1 742.6 683.3 742.9 685.6 743.4 C687.8 744.0 689.7 744.8 691.8 745.5 C693.8 746.1 695.9 746.8 698.0 747.3 C700.1 747.8 701.1 748.1 704.2 748.4 C707.3 748.7 711.9 749.0 716.7 749.2 C721.4 749.4 724.9 749.5 732.7 749.7 C740.5 749.9 754.4 750.2 763.3 750.4 C772.3 750.7 782.5 751.1 786.3 751.2" stroke="#0000ff"/>
<path d="M138.3 619.3 C140.0 619.7 145.0 620.6 148.3 621.6 C151.5 622.6 154.7 623.9 157.8 625.4 C161.0 626.9 164.9 628.8 167.4 630.6 C170.0 632.3 171.2 633.9 173.2 635.9 C175.1 637.9 177.2 640.7 178.9 642.6 C180.6 644.5 182.3 645.5 183.3 647.4 C184.3 649.3 184.1 651.9 184.6 654.1 C185.2 656.3 185.8 659.0 186.6 660.8 C187.4 662.6 187.8 663.6 189.4 665.0 C191.0 666.5 193.7 667.9 196.1 669.4 C198.5 671.0 201.9 672.5 203.8 674.2 C205.7 676.0 206.3 678.1 207.6 680.0 C208.9 681.8 210.0 683.7 211.4 685.3 C212.9 687.0 214.3 688.6 216.2 689.9 C218.1 691.2 220.2 692.3 222.9 693.3 C225.6 694.4 229.3 695.3 232.5 696.2 C235.7 697.2 239.2 698.0 242.1 699.1 C244.9 700.1 246.8 701.5 249.7 702.5 C252.6 703.6 256.2 704.3 259.3 705.2 C262.4 706.2 265.2 707.5 268.3 708.3 C271.4 709.0 274.7 709.4 277.8 709.8 C281.0 710.2 282.6 710.4 287.4 710.6 C292.2 710.7 300.2 710.6 306.6 710.6 C312.9 710.5 319.3 710.3 325.7 710.2 C332.1 710.1 340.8 710.0 344.8 710.0 C348.9 710.0 345.9 709.9 350.0 710.0 C354.1 710.0 363.9 710.4 369.1 710.5 C374.4 710.7 379.3 710.6 381.6 710.8 C383.9 711.0 382.4 711.1 383.0 711.7 C383.7 712.3 384.5 713.7 385.4 714.5 C386.3 715.3 387.0 716.1 388.3 716.5 C389.6 716.8 391.5 716.7 393.1 716.7 C394.7 716.8 395.5 716.5 397.8 716.7 C400.2 716.8 401.8 717.0 407.4 717.4 C413.0 717.9 426.2 718.9 431.5 719.3 C436.8 719.7 434.8 719.4 439.1 719.9 C443.5 720.3 451.1 721.3 457.5 722.1 C463.9 722.8 470.3 723.5 477.4 724.2 C484.5 725.0 494.6 726.1 500.0 726.6 C505.4 727.2 502.9 726.9 509.6 727.6 C516.3 728.2 528.5 729.4 540.2 730.5 C551.9 731.6 571.4 733.4 580.0 734.1 C588.6 734.9 587.0 734.8 592.0 735.2 C596.9 735.6 601.6 736.0 609.5 736.7 C617.5 737.4 629.7 738.4 639.8 739.2 C649.9 740.1 663.5 741.2 670.0 741.7 C676.5 742.3 676.2 742.3 678.6 742.7 C680.9 743.0 682.1 743.3 684.0 743.9 C685.9 744.5 688.1 745.5 690.2 746.2 C692.3 747.0 693.8 747.9 696.4 748.4 C699.0 748.9 699.7 748.9 705.8 749.2 C711.8 749.5 719.2 749.6 732.7 750.0 C746.1 750.3 777.4 751.1 786.3 751.4" stroke="#0000ff"/>
</g>
<path d="M155.0 430.81 V766.4 M155.0 435.5 V439" stroke="#000" stroke-width="1.6" stroke-dasharray="5.6 5.79" fill="none" clip-path="url(#c3)"/>
<path d="M540.2 430.81 V766.4 M540.2 435.5 V439" stroke="#000" stroke-width="1.6" stroke-dasharray="5.6 5.79" fill="none" clip-path="url(#c3)"/>
<rect x="60.3" y="435.6" width="760.7" height="330.4" fill="none" stroke="#333" stroke-width="0.85"/>
<line x1="56.6" x2="60" y1="751.7" y2="751.7" stroke="#333" stroke-width="0.85"/>
<text class="ax" x="45.8" y="755.7" textLength="6.5" lengthAdjust="spacingAndGlyphs">0</text>
<line x1="56.6" x2="60" y1="668.9" y2="668.9" stroke="#333" stroke-width="0.85"/>
<text class="ax" x="38.8" y="672.9" textLength="13.5" lengthAdjust="spacingAndGlyphs">50</text>
<line x1="56.6" x2="60" y1="586.2" y2="586.2" stroke="#333" stroke-width="0.85"/>
<text class="ax" x="31.8" y="590.2" textLength="20.5" lengthAdjust="spacingAndGlyphs">100</text>
<line x1="56.6" x2="60" y1="503.4" y2="503.4" stroke="#333" stroke-width="0.85"/>
<text class="ax" x="31.8" y="507.4" textLength="20.5" lengthAdjust="spacingAndGlyphs">150</text>
<line y1="766.5" y2="770" x1="155.0" x2="155.0" stroke="#333" stroke-width="0.85"/>
<text class="ax" x="139.5" y="781" textLength="31" lengthAdjust="spacingAndGlyphs">-9460</text>
<line y1="766.5" y2="770" x1="235.8" x2="235.8" stroke="#333" stroke-width="0.85"/>
<text class="ax" x="220.3" y="781" textLength="31" lengthAdjust="spacingAndGlyphs">-8000</text>
<line y1="766.5" y2="770" x1="457.2" x2="457.2" stroke="#333" stroke-width="0.85"/>
<text class="ax" x="441.7" y="781" textLength="31" lengthAdjust="spacingAndGlyphs">-4000</text>
<line y1="766.5" y2="770" x1="540.2" x2="540.2" stroke="#333" stroke-width="0.85"/>
<text class="ax" x="524.7" y="781" textLength="31" lengthAdjust="spacingAndGlyphs">-2500</text>
<line y1="766.5" y2="770" x1="678.6" x2="678.6" stroke="#333" stroke-width="0.85"/>
<text class="ax" x="675.4" y="781" textLength="6.5" lengthAdjust="spacingAndGlyphs">0</text>
<line y1="766.5" y2="770" x1="786.5" x2="786.5" stroke="#333" stroke-width="0.85"/>
<text class="ax" x="772.8" y="781" textLength="27.5" lengthAdjust="spacingAndGlyphs">1950</text>
<text x="413" y="798.5" font-size="14.4" fill="#000" textLength="56" lengthAdjust="spacingAndGlyphs">BCE/CE</text>
<text transform="translate(25.2,701) rotate(-90)" font-size="14.4" fill="#000" textLength="200" lengthAdjust="spacingAndGlyphs">Meters above present sea-level</text>
<line x1="273.5" x2="291.5" y1="834" y2="834" stroke="#ff8c00" stroke-width="1.8"/>
<text class="leg" x="301" y="838" textLength="36" lengthAdjust="spacingAndGlyphs">Horten</text>
<line x1="347" x2="365" y1="834" y2="834" stroke="#006400" stroke-width="1.8"/>
<text class="leg" x="375" y="838" textLength="57" lengthAdjust="spacingAndGlyphs">Porsgrunn</text>
<line x1="441.5" x2="459.5" y1="834" y2="834" stroke="#0000ff" stroke-width="1.8"/>
<text class="leg" x="469" y="838" textLength="68.3" lengthAdjust="spacingAndGlyphs">Tvedestrand</text>
<line x1="547.5" x2="565.5" y1="834" y2="834" stroke="#000" stroke-width="1.8"/>
<text class="leg" x="575" y="838" textLength="43" lengthAdjust="spacingAndGlyphs">Arendal</text>
<text x="443.5" y="876" font-size="11" fill="#000" textLength="378.5" lengthAdjust="spacingAndGlyphs">Coordinate reference system: WGS 84 / UTM zone 32N (EPSG:32632)</text>
</svg></body></html>
